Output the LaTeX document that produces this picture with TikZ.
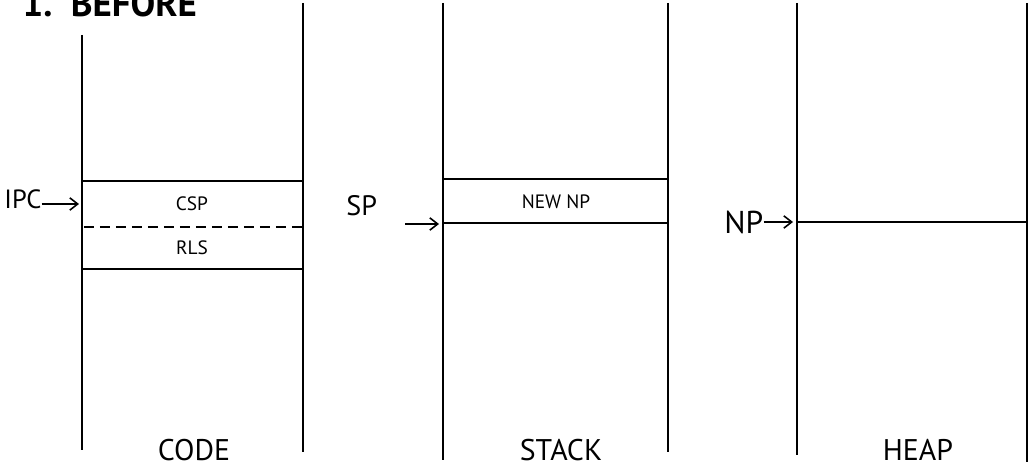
\documentclass[tikz,border=0pt]{standalone}
\usepackage{fontspec}
\setmainfont{PT Sans}
\usetikzlibrary{arrows.meta, positioning}
\tikzset{
  wall/.style={draw=black, line width=0.9pt},
  cellline/.style={draw=black, line width=1.1pt},
  ptr/.style={draw=black, line width=0.9pt, -{Straight Barb[length=4.5pt, width=7pt]}},
  ptrlabel/.style={font=\fontsize{15}{17}\selectfont, inner sep=0pt},
  celltext/.style={font=\fontsize{11}{13}\selectfont, inner sep=0pt},
  segname/.style={font=\fontsize{17}{19}\selectfont, inner sep=0pt, anchor=base}
}

\begin{document}
\begin{tikzpicture}[x=0.02cm, y=-0.02cm]
  \useasboundingbox (0,0) rectangle (1029,466);

  % title
  \node [anchor=base west, inner sep=0pt, font=\bfseries\fontsize{21}{23}\selectfont] (title) at (22,17) {1.\hspace{0.5em}BEFORE};

  % segment walls
  \draw [wall] (82,35) -- (82,450);
  \draw [wall] (303,3) -- (303,452);
  \draw [wall] (443,3) -- (443,460);
  \draw [wall] (668,3) -- (668,452);
  \draw [wall] (797,3) -- (797,455);
  \draw [wall] (1027,3) -- (1027,462);

  % code segment
  \draw [cellline] (82,181) -- (303,181);
  \draw [wall, dash pattern=on 0.2cm off 0.12cm] (84,227) -- (303,227);
  \draw [cellline] (82,269) -- (303,269);
  \node [celltext] (csp) at (192,204) {CSP};
  \node [celltext] (rls) at (192,248) {RLS};

  % stack segment
  \draw [cellline] (443,179) -- (668,179);
  \draw [cellline] (443,223) -- (668,223);
  \node [celltext] (newnp) at (556,202) {NEW NP};

  % heap segment
  \draw [cellline] (797,222) -- (1027,222);

  % pointers
  \node [ptrlabel, anchor=base west] (ipc) at (4,209) {IPC};
  \coordinate (ipctip) at (79,204);
  \draw [ptr] (ipc.east |- ipctip) -- (ipctip);

  \node [ptrlabel, anchor=base west, font=\fontsize{16}{18}\selectfont] (sp) at (346,215) {SP};
  \coordinate (sptail) at (405,224);
  \coordinate (sptip) at (439,224);
  \draw [ptr] (sptail) -- (sptip);

  \node [ptrlabel, anchor=base west, font=\fontsize{18}{20}\selectfont] (np) at (724,234) {NP};
  \coordinate (nptip) at (793,222);
  \draw [ptr] (np.east |- nptip) -- (nptip);

  % segment names
  \node [segname] (code) at (194,460) {CODE};
  \node [segname] (stack) at (561,460) {STACK};
  \node [segname] (heap) at (918,460) {HEAP};
\end{tikzpicture}
\end{document}
